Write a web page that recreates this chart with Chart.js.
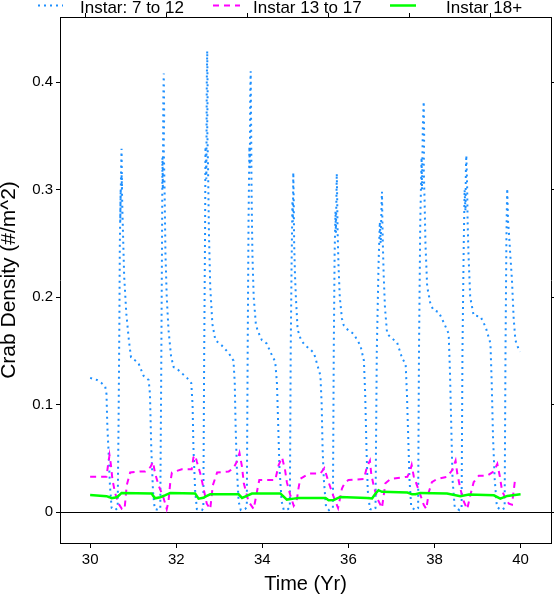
<!DOCTYPE html>
<html>
<head>
<meta charset="utf-8">
<script src="https://cdn.jsdelivr.net/npm/chart.js@4/dist/chart.umd.min.js"></script>
<style>
  html, body { margin: 0; padding: 0; background: #fff; }
  canvas { display: block; }
</style>
</head>
<body>
<canvas id="c" width="554" height="596"></canvas>
<script>
// ---------- data ----------
const seriesNames = ['Instar: 7 to 12', 'Instar 13 to 17', 'Instar 18+'];

const blueX = [
  30.00,30.16,30.27,30.35,30.38,30.40,30.43,30.46,30.50,30.58,30.64,30.66,30.68,30.69,30.71,30.70,30.72,30.73,30.74,30.73,30.75,30.77,30.79,30.84,30.90,30.95,
  31.12,31.24,31.36,31.39,31.42,31.46,31.50,31.60,31.63,31.65,31.67,31.68,31.69,31.70,31.71,31.72,31.71,31.73,31.75,31.78,31.82,31.88,31.94,
  32.00,32.25,32.35,32.38,32.40,32.44,32.48,32.60,32.63,32.65,32.67,32.68,32.70,32.71,32.72,32.73,32.72,32.74,32.76,32.79,32.84,32.91,
  33.06,33.22,33.33,33.36,33.38,33.41,33.45,33.50,33.60,33.64,33.66,33.68,33.70,33.71,33.72,33.73,33.74,33.75,33.77,33.80,33.85,33.89,
  33.99,34.10,34.20,34.30,34.34,34.37,34.40,34.45,34.50,34.60,34.64,34.66,34.68,34.70,34.71,34.72,34.73,34.74,34.76,34.78,34.82,34.90,
  35.00,35.10,35.20,35.30,35.35,35.38,35.40,35.43,35.48,35.55,35.64,35.66,35.68,35.70,35.71,35.73,35.74,35.75,35.77,35.80,35.85,35.89,
  36.00,36.12,36.28,36.36,36.39,36.42,36.45,36.50,36.58,36.63,36.66,36.70,36.73,36.75,36.77,36.78,36.79,36.80,36.82,36.85,36.90,
  37.00,37.13,37.25,37.33,37.36,37.39,37.42,37.46,37.55,37.62,37.64,37.67,37.70,37.71,37.73,37.75,37.76,37.75,37.77,37.79,37.83,37.91,
  37.98,38.10,38.22,38.33,38.36,38.39,38.42,38.47,38.58,38.63,38.65,38.68,38.70,38.72,38.73,38.74,38.76,38.77,38.79,38.83,38.91,
  39.07,39.19,39.30,39.33,39.36,39.40,39.45,39.55,39.63,39.65,39.67,39.68,39.69,39.71,39.73,39.76,39.80,39.84,39.88,39.98
];
const blueY = [
  0.125,0.123,0.120,0.117,0.110,0.080,0.055,0.025,0.004,0.002,0.004,0.080,0.180,0.250,0.300,0.270,0.320,0.338,0.300,0.315,0.280,0.250,0.220,0.185,0.160,0.144,
  0.139,0.127,0.123,0.110,0.060,0.020,0.003,0.002,0.004,0.120,0.250,0.330,0.300,0.380,0.408,0.370,0.340,0.300,0.240,0.200,0.170,0.145,0.135,
  0.134,0.125,0.120,0.100,0.060,0.020,0.003,0.002,0.004,0.150,0.260,0.340,0.310,0.400,0.429,0.390,0.360,0.320,0.260,0.210,0.175,0.160,
  0.155,0.148,0.141,0.120,0.080,0.040,0.010,0.002,0.003,0.005,0.150,0.270,0.340,0.320,0.390,0.410,0.360,0.300,0.240,0.200,0.175,0.169,
  0.160,0.157,0.148,0.140,0.120,0.080,0.040,0.010,0.002,0.003,0.005,0.150,0.230,0.290,0.270,0.316,0.290,0.250,0.220,0.200,0.170,0.160,
  0.155,0.152,0.148,0.134,0.127,0.100,0.060,0.030,0.005,0.002,0.004,0.150,0.240,0.280,0.260,0.315,0.290,0.260,0.230,0.200,0.180,0.174,
  0.169,0.166,0.155,0.141,0.110,0.060,0.020,0.003,0.002,0.004,0.150,0.230,0.270,0.250,0.285,0.298,0.270,0.250,0.220,0.190,0.166,
  0.162,0.158,0.143,0.138,0.110,0.070,0.030,0.005,0.002,0.004,0.150,0.270,0.330,0.300,0.360,0.382,0.350,0.320,0.290,0.250,0.210,0.193,
  0.188,0.186,0.176,0.166,0.130,0.080,0.030,0.005,0.002,0.004,0.150,0.250,0.300,0.280,0.320,0.332,0.300,0.270,0.240,0.200,0.183,
  0.182,0.172,0.157,0.120,0.070,0.030,0.005,0.002,0.004,0.150,0.250,0.280,0.301,0.270,0.260,0.240,0.216,0.180,0.160,0.149
];

const magX = [
  30.00,30.38,30.42,30.45,30.48,30.52,30.58,30.66,30.74,30.80,30.85,30.93,31.16,31.28,31.40,31.46,31.51,31.59,31.70,31.78,31.82,31.86,31.90,
  32.13,32.36,32.40,32.44,32.48,32.56,32.62,32.71,32.79,32.85,32.95,33.22,33.33,33.42,33.47,33.53,33.57,33.68,33.80,33.88,33.93,
  34.30,34.38,34.46,34.53,34.57,34.65,34.73,34.80,34.84,34.88,35.08,35.35,35.44,35.54,35.66,35.76,35.85,35.91,36.00,
  36.36,36.43,36.50,36.53,36.59,36.67,36.78,36.86,36.98,37.37,37.43,37.47,37.52,37.64,37.75,37.81,37.87,37.94,38.06,
  38.29,38.41,38.49,38.53,38.60,38.68,38.76,38.84,38.91,39.03,39.22,39.38,39.46,39.52,39.57,39.65,39.73,39.80,39.84,39.88
];
const magY = [
  0.033,0.033,0.045,0.053,0.045,0.030,0.018,0.008,0.003,0.003,0.025,0.037,0.038,0.038,0.042,0.047,0.036,0.025,0.014,0.003,0.010,0.027,0.037,
  0.040,0.040,0.051,0.053,0.047,0.036,0.025,0.008,0.003,0.025,0.037,0.038,0.041,0.048,0.055,0.042,0.027,0.010,0.003,0.020,0.030,
  0.030,0.044,0.051,0.039,0.028,0.016,0.006,0.011,0.022,0.031,0.036,0.036,0.041,0.028,0.014,0.004,0.022,0.027,0.030,
  0.031,0.042,0.048,0.036,0.024,0.013,0.004,0.027,0.031,0.033,0.038,0.044,0.033,0.020,0.007,0.003,0.019,0.028,0.031,
  0.033,0.039,0.048,0.036,0.022,0.010,0.003,0.017,0.028,0.034,0.034,0.038,0.045,0.033,0.020,0.013,0.008,0.007,0.020,0.033
];

const greenX = [
  30.00,30.38,30.45,30.50,30.62,30.68,30.73,31.43,31.47,31.51,31.63,31.75,31.86,32.44,32.52,32.63,32.70,32.79,33.45,33.53,33.64,33.76,
  34.42,34.57,34.73,34.84,35.47,35.54,35.66,35.81,36.43,36.55,36.63,36.70,36.78,37.37,37.48,37.56,37.67,38.29,38.49,38.60,38.80,
  39.38,39.53,39.69,40.00
];
const greenY = [
  0.0160,0.0150,0.0140,0.0130,0.0140,0.0160,0.0180,0.0174,0.0150,0.0130,0.0140,0.0160,0.0180,0.0174,0.0127,0.0135,0.0150,0.0167,0.0167,0.0133,0.0152,0.0174,
  0.0174,0.0118,0.0127,0.0133,0.0133,0.0112,0.0115,0.0143,0.0133,0.0128,0.0174,0.0205,0.0190,0.0183,0.0167,0.0167,0.0180,0.0174,0.0158,0.0149,0.0165,
  0.0158,0.0127,0.0152,0.0167
];

const xTicks = [30, 32, 34, 36, 38, 40];
const xTickLabels = ['30', '32', '34', '36', '38', '40'];
const yTicks = [0, 0.1, 0.2, 0.3, 0.4];
const yTickLabels = ['0', '0.1', '0.2', '0.3', '0.4'];
const topTicks = [1, 2, 3, 4, 5, 6];

// ---------- chart ----------
const FONT = "'Liberation Sans', Arial, Helvetica, sans-serif";
const COLORS = ['#1E90FF', '#FF00FF', '#00FF00'];
const DASHES = [[2, 4], [6, 5], []];

function pts(xs, ys) { return xs.map((x, i) => ({ x: x, y: ys[i] })); }

const legendPlugin = {
  id: 'topLegend',
  afterDraw(chart) {
    const ctx = chart.ctx;
    const items = [
      { x0: 38, x1: 63, tx: 80 },
      { x0: 213, x1: 240, tx: 253 },
      { x0: 390, x1: 416, tx: 446 }
    ];
    ctx.save();
    items.forEach((it, i) => {
      ctx.beginPath();
      ctx.strokeStyle = COLORS[i];
      ctx.lineWidth = i === 2 ? 2.5 : 2;
      ctx.setLineDash(DASHES[i]);
      ctx.moveTo(it.x0, 5.5);
      ctx.lineTo(it.x1, 5.5);
      ctx.stroke();
      ctx.setLineDash([]);
      ctx.fillStyle = '#000';
      ctx.font = '17px ' + FONT;
      ctx.textBaseline = 'alphabetic';
      ctx.textAlign = 'left';
      ctx.fillText(seriesNames[i], it.tx, 13);
    });
    ctx.restore();
  }
};

const commonBorder = { display: true, color: '#000', width: 1 };

new Chart(document.getElementById('c'), {
  type: 'scatter',
  data: {
    datasets: [
      { label: seriesNames[0], data: pts(blueX, blueY), showLine: true, borderColor: COLORS[0], borderWidth: 2, borderDash: DASHES[0], borderCapStyle: 'butt', pointRadius: 0, order: 2 },
      { label: seriesNames[1], data: pts(magX, magY), showLine: true, borderColor: COLORS[1], borderWidth: 2, borderDash: DASHES[1], borderCapStyle: 'butt', pointRadius: 0, order: 1 },
      { label: seriesNames[2], data: pts(greenX, greenY), showLine: true, borderColor: COLORS[2], borderWidth: 2.5, pointRadius: 0, order: 0 }
    ]
  },
  options: {
    responsive: false,
    animation: false,
    devicePixelRatio: 1,
    layout: { padding: 0 },
    plugins: { legend: { display: false }, tooltip: { enabled: false } },
    elements: { point: { radius: 0 }, line: { tension: 0 } },
    scales: {
      x: {
        type: 'linear', position: 'bottom', min: 29.30, max: 40.707,
        afterFit: s => { s.height = 53; },
        afterBuildTicks: s => { s.ticks = xTicks.map(v => ({ value: v })); },
        ticks: { includeBounds: false, color: '#000', padding: 3, maxRotation: 0, autoSkip: false,
                 font: { family: FONT, size: 15 }, callback: (v, i) => xTickLabels[i] },
        grid: { drawOnChartArea: false, drawTicks: true, tickLength: 5, tickColor: '#000', lineWidth: 1 },
        border: commonBorder,
        title: { display: true, text: 'Time (Yr)', color: '#000', font: { family: FONT, size: 20 }, padding: { top: 0, bottom: 0 } }
      },
      x2: {
        type: 'linear', position: 'top', min: 0.679, max: 6.741,
        afterFit: s => { s.height = 17; },
        afterBuildTicks: s => { s.ticks = topTicks.map(v => ({ value: v })); },
        ticks: { display: false, includeBounds: false },
        grid: { drawOnChartArea: false, drawTicks: true, tickLength: 4, tickColor: '#000', lineWidth: 1 },
        border: commonBorder
      },
      y: {
        type: 'linear', position: 'left', min: -0.02856, max: 0.4605,
        afterFit: s => { s.width = 60; },
        afterBuildTicks: s => { s.ticks = yTicks.map(v => ({ value: v })); },
        ticks: { includeBounds: false, color: '#000', padding: 3, autoSkip: false,
                 font: { family: FONT, size: 15 }, callback: (v, i) => yTickLabels[i] },
        grid: { drawOnChartArea: true, drawTicks: true, tickLength: 4,
                color: c => (c.tick && c.tick.value === 0) ? '#000' : 'rgba(0,0,0,0)',
                tickColor: '#000', lineWidth: 1 },
        border: commonBorder,
        title: { display: true, text: 'Crab Density (#/m^2)', color: '#000', font: { family: FONT, size: 21, lineHeight: 0.86 }, padding: { top: 0, bottom: 0 } }
      },
      y2: {
        type: 'linear', position: 'right', min: -0.02856, max: 0.4605,
        afterFit: s => { s.width = 3; },
        afterBuildTicks: s => { s.ticks = yTicks.map(v => ({ value: v })); },
        ticks: { display: false, includeBounds: false },
        grid: { drawOnChartArea: false, drawTicks: true, tickLength: 3, tickColor: '#000', lineWidth: 1 },
        border: commonBorder
      }
    }
  },
  plugins: [legendPlugin]
});
</script>
</body>
</html>
